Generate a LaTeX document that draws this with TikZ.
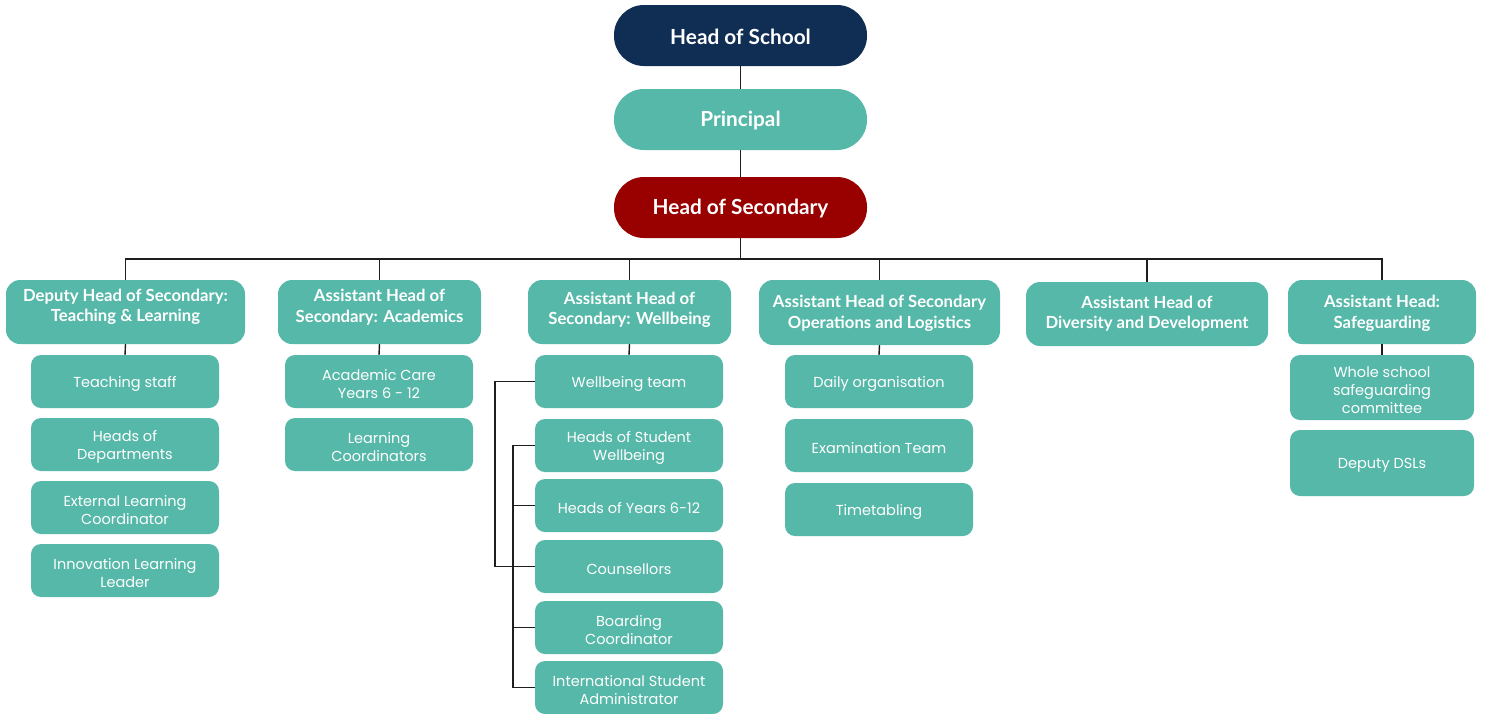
\documentclass[tikz,border=0pt]{standalone}
\usepackage{fontspec}
\newfontfamily\lato{Lato}
\newfontfamily\pop{Poppins}
\definecolor{navy}{HTML}{102D54}
\definecolor{tealbox}{HTML}{55B8A8}
\definecolor{dred}{HTML}{990000}
\definecolor{lin}{HTML}{1E1E1E}
\newcommand{\subnode}[5][]{%
  \node[subbox,#1] (#2) at (#3,#4) {};
  \node[subtext] (#2-t) at ([yshift=-2.5pt]#2.center) {#5};}
\begin{document}
\begin{tikzpicture}[x=1pt,y=-1pt,
  topbox/.style={rounded corners=30pt, minimum width=253pt, minimum height=61pt, inner sep=0pt},
  toptext/.style={text=white, inner sep=0pt, font=\lato\bfseries\fontsize{20.8}{24}\selectfont},
  lvlbox/.style={fill=tealbox, rounded corners=14pt, inner sep=0pt},
  lvltext/.style={text=white, align=center, inner sep=0pt, font=\lato\bfseries\fontsize{16.7}{20.5}\selectfont},
  subbox/.style={fill=tealbox, rounded corners=10pt, inner sep=0pt, minimum width=188pt, minimum height=53pt},
  subtext/.style={text=white, align=center, inner sep=0pt, font=\pop\fontsize{14.5}{18}\selectfont},
  conn/.style={draw=lin, line width=1.4pt}
]
\useasboundingbox (0,0) rectangle (1486,713);

% top chain
\node[topbox, fill=navy] (hsch) at (740.5,35.5) {};
\node[toptext] (hscht) at (740.5,36.5) {Head of School};
\node[topbox, fill=tealbox] (prin) at (740.5,119.5) {};
\node[toptext] (print) at (740.5,120.5) {Principal};
\node[topbox, fill=dred] (hsec) at (740.5,207.5) {};
\node[toptext] (hsect) at (740.5,209) {Head of Secondary};
\coordinate (bus) at (740.5,259);

% level 2
\node[lvlbox, minimum width=239pt, minimum height=64pt] (dep) at (125.5,312) {};
\node[lvltext] (dept) at (125.5,307) {Deputy Head of Secondary:\\Teaching \& Learning};
\node[lvlbox, minimum width=203pt, minimum height=64pt] (aca) at (379.5,312) {};
\node[lvltext] (acat) at (379.5,307) {Assistant Head of\\Secondary: Academics};
\node[lvlbox, minimum width=203pt, minimum height=64pt] (wel) at (629.5,312) {};
\node[lvltext] (welt) at (629.5,310) {Assistant Head of\\Secondary: Wellbeing};
\node[lvlbox, minimum width=241pt, minimum height=65pt] (ops) at (879.5,312.5) {};
\node[lvltext] (opst) at (879.5,313.5) {Assistant Head of Secondary\\Operations and Logistics};
\node[lvlbox, minimum width=242pt, minimum height=64pt] (div) at (1147,314) {};
\node[lvltext] (divt) at (1147,313.5) {Assistant Head of\\Diversity and Development};
\node[lvlbox, minimum width=188pt, minimum height=64pt] (saf) at (1382,312) {};
\node[lvltext] (saft) at (1382,313.5) {Assistant Head:\\Safeguarding};

% column 1
\subnode{ts}{125}{381.5}{Teaching staff}
\subnode{hod}{125}{444.5}{Heads of\\Departments}
\subnode{elc}{125}{507.5}{External Learning\\Coordinator}
\subnode{ill}{125}{570.5}{Innovation Learning\\Leader}
% column 2
\subnode{ac}{379}{381.5}{Academic Care\\Years 6 - 12}
\subnode{lc}{379}{444.5}{Learning\\Coordinators}
% column 3
\subnode{wt}{629}{381.5}{Wellbeing team}
\subnode{hsw}{629}{445.5}{Heads of Student\\Wellbeing}
\subnode{hoy}{629}{505.5}{Heads of Years 6-12}
\subnode{cou}{629}{566.5}{Counsellors}
\subnode{boa}{629}{627.5}{Boarding\\Coordinator}
\subnode{isa}{629}{687.5}{International Student\\Administrator}
% column 4
\subnode{dor}{879}{381.5}{Daily organisation}
\subnode{et}{879}{445.5}{Examination Team}
\subnode{tt}{879}{509.5}{Timetabling}
% column 6
\subnode[minimum width=184pt, minimum height=65pt]{wsc}{1382}{387.5}{Whole school\\safeguarding\\committee}
\subnode[minimum width=184pt, minimum height=66pt]{dsl}{1382}{463}{Deputy DSLs}

% connectors
\draw[conn] (hsch.south) -- (prin.north);
\draw[conn] (prin.south) -- (hsec.north);
\draw[conn] (hsec.south) -- (bus);
\draw[conn] (dep.north) -- (dep.north |- bus) -- (saf.north |- bus) -- (saf.north);
\foreach \n in {aca,wel,ops,div} \draw[conn] (\n.north) -- (\n.north |- bus);
\draw[conn] (dep.south) -- (ts.north);
\draw[conn] (aca.south) -- (ac.north);
\draw[conn] (wel.south) -- (wt.north);
\draw[conn] (ops.south) -- (dor.north);
\draw[conn] (saf.south) -- (wsc.north);
\draw[conn] (wt.west) -- ++(-40,0) |- (cou.west);
\draw[conn] (hsw.west) -- ++(-22,0) |- (isa.west);
\foreach \n in {hoy,cou,boa} \draw[conn] (\n.west) -- ++(-22,0);
\end{tikzpicture}
\end{document}
